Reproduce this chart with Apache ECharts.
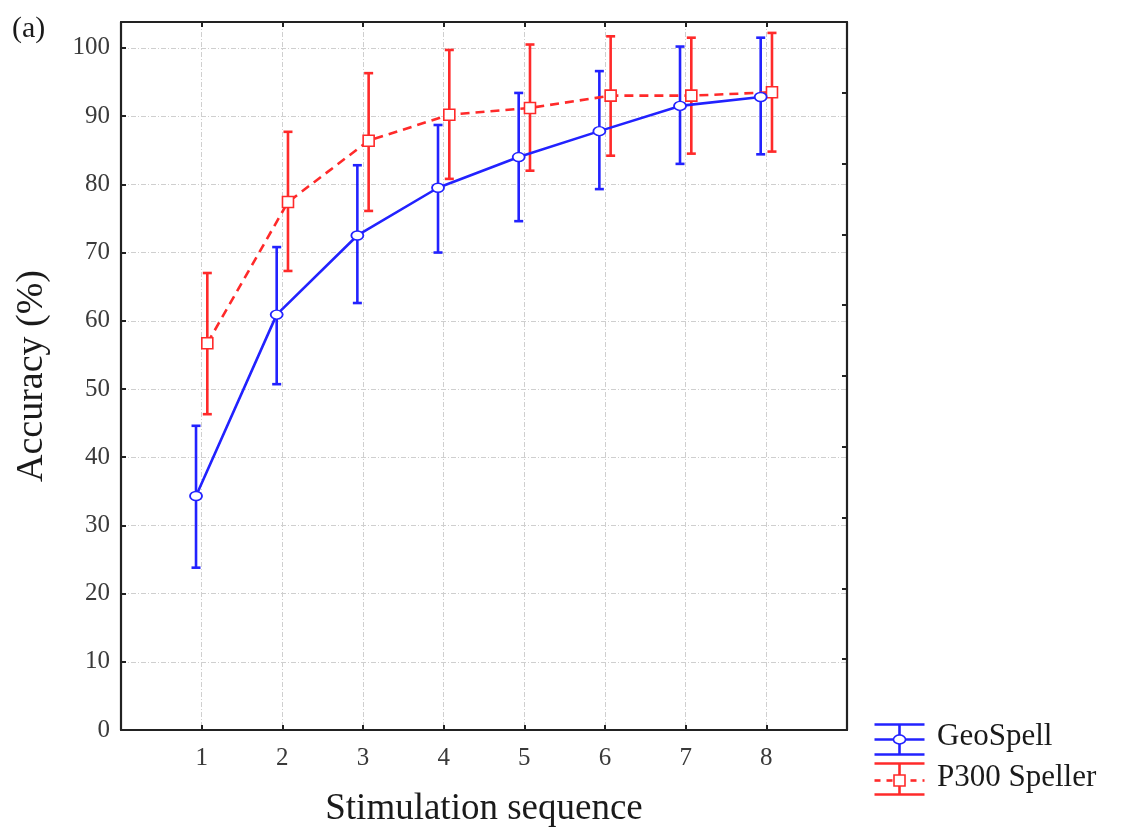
<!DOCTYPE html>
<html>
<head>
<meta charset="utf-8">
<script src="https://cdn.jsdelivr.net/npm/echarts@6/dist/echarts.min.js"></script>
<style>
html,body{margin:0;padding:0;background:#fff;}
#chart{width:1123px;height:834px;}
</style>
</head>
<body>
<div id="chart"></div>
<script>
// ---- data ----
var categories = [1, 2, 3, 4, 5, 6, 7, 8];
var geoMean  = [34.3, 60.9, 72.5, 79.5, 84.0, 87.8, 91.5, 92.8];
var geoLow   = [23.8, 50.7, 62.6, 70.0, 74.6, 79.3, 83.0, 84.4];
var geoHigh  = [44.6, 70.8, 82.8, 88.7, 93.4, 96.6, 100.2, 101.5];
var p3Mean   = [56.7, 77.4, 86.4, 90.2, 91.2, 93.0, 93.0, 93.5];
var p3Low    = [46.3, 67.3, 76.1, 80.8, 82.0, 84.2, 84.5, 84.8];
var p3High   = [67.0, 87.7, 96.3, 99.7, 100.5, 101.7, 101.5, 102.2];
var yTicks   = [0, 10, 20, 30, 40, 50, 60, 70, 80, 90, 100];
var seriesNames = ['GeoSpell', 'P300 Speller'];

// ---- styling ----
var FONT = "'Liberation Serif','Times New Roman',serif";
var BLUE = '#2222ff';
var RED = '#ff2a2a';
var DX = 0.07; // horizontal dodge of the two series
var GRID_COLOR = '#cfcfcf';
var FRAME = '#222';

function pts(means, dx) {
  return categories.map(function (c, i) { return [c + dx, means[i]]; });
}
function errs(lows, highs, dx) {
  return categories.map(function (c, i) { return [c + dx, lows[i], highs[i]]; });
}
function errRender(color) {
  return function (params, api) {
    var x = api.value(0);
    var top = api.coord([x, api.value(2)]);
    var bot = api.coord([x, api.value(1)]);
    var hw = 4.5;
    var st = { stroke: color, lineWidth: 2.6 };
    return {
      type: 'group',
      children: [
        { type: 'line', shape: { x1: top[0], y1: top[1], x2: bot[0], y2: bot[1] }, style: st },
        { type: 'line', shape: { x1: top[0] - hw, y1: top[1], x2: top[0] + hw, y2: top[1] }, style: st },
        { type: 'line', shape: { x1: bot[0] - hw, y1: bot[1], x2: bot[0] + hw, y2: bot[1] }, style: st }
      ]
    };
  };
}

var chart = echarts.init(document.getElementById('chart'));

var gridSplit = { show: true, lineStyle: { color: GRID_COLOR, width: 1, type: [5, 2, 1, 2] } };
var frameLine = { show: true, onZero: false, lineStyle: { color: FRAME, width: 2.2 } };
var innerTick = { show: true, inside: true, length: 5, lineStyle: { color: FRAME, width: 2 } };

var option = {
  backgroundColor: '#fff',
  animation: false,
  grid: { left: 121, right: 276, top: 22, bottom: 104 },
  xAxis: [
    {
      type: 'value', min: 0, max: 9, interval: 1, position: 'bottom',
      name: 'Stimulation sequence', nameLocation: 'middle', nameGap: 61,
      nameTextStyle: { fontFamily: FONT, fontSize: 37, color: '#1a1a1a' },
      axisLine: frameLine,
      axisTick: innerTick,
      axisLabel: {
        margin: 16, fontFamily: FONT, fontSize: 25, color: '#3a3a3a',
        formatter: function (v) { return categories.indexOf(v) >= 0 ? String(v) : ''; }
      },
      splitLine: gridSplit
    },
    {
      type: 'value', min: 0, max: 9, interval: 1, position: 'top',
      axisLine: frameLine,
      axisTick: innerTick,
      axisLabel: { show: false },
      splitLine: { show: false }
    }
  ],
  yAxis: [
    {
      type: 'value', min: 0, max: 103.8, interval: 10, position: 'left',
      name: 'Accuracy (%)', nameLocation: 'middle', nameGap: 70, nameRotate: 90,
      nameTextStyle: { fontFamily: FONT, fontSize: 38, color: '#1a1a1a' },
      axisLine: frameLine,
      axisTick: innerTick,
      axisLabel: {
        margin: 11, fontFamily: FONT, fontSize: 25, color: '#3a3a3a',
        formatter: function (v) { return yTicks.indexOf(v) >= 0 ? String(v) : ''; }
      },
      splitLine: gridSplit
    },
    {
      type: 'value', min: 0, max: 10, interval: 1, position: 'right',
      axisLine: frameLine,
      axisTick: innerTick,
      axisLabel: { show: false },
      splitLine: { show: false }
    }
  ],
  series: [
    {
      name: seriesNames[0] + ' error', type: 'custom', xAxisIndex: 0, yAxisIndex: 0, z: 3,
      renderItem: errRender(BLUE), data: errs(geoLow, geoHigh, -DX), silent: true
    },
    {
      name: seriesNames[1] + ' error', type: 'custom', xAxisIndex: 0, yAxisIndex: 0, z: 3,
      renderItem: errRender(RED), data: errs(p3Low, p3High, DX), silent: true
    },
    {
      name: seriesNames[1], type: 'line', xAxisIndex: 0, yAxisIndex: 0, z: 4,
      data: pts(p3Mean, DX),
      symbol: 'rect', symbolSize: 11,
      itemStyle: { color: '#fff', borderColor: RED, borderWidth: 1.6 },
      lineStyle: { color: RED, width: 2.6, type: [9, 6] }
    },
    {
      name: seriesNames[0], type: 'line', xAxisIndex: 0, yAxisIndex: 0, z: 5,
      data: pts(geoMean, -DX),
      symbol: 'circle', symbolSize: [12, 9],
      itemStyle: { color: '#fff', borderColor: BLUE, borderWidth: 1.6 },
      lineStyle: { color: BLUE, width: 2.6, type: 'solid' }
    }
  ],
  graphic: [
    { type: 'text', left: 12, top: 14, style: { text: '(a)', font: '30px ' + FONT, fill: '#1a1a1a' } },
    // legend: GeoSpell
    { type: 'group', left: 872, top: 722, children: [
      { type: 'line', shape: { x1: 0, y1: 1, x2: 50, y2: 1 }, style: { stroke: BLUE, lineWidth: 2.6 } },
      { type: 'line', shape: { x1: 0, y1: 16, x2: 50, y2: 16 }, style: { stroke: BLUE, lineWidth: 2.6 } },
      { type: 'line', shape: { x1: 0, y1: 31, x2: 50, y2: 31 }, style: { stroke: BLUE, lineWidth: 2.6 } },
      { type: 'line', shape: { x1: 25, y1: 1, x2: 25, y2: 31 }, style: { stroke: BLUE, lineWidth: 2.6 } },
      { type: 'ellipse', shape: { cx: 25, cy: 16, rx: 6, ry: 4.5 }, style: { fill: '#fff', stroke: BLUE, lineWidth: 1.6 } }
    ]},
    { type: 'text', left: 937, top: 721, style: { text: seriesNames[0], font: '31px ' + FONT, fill: '#1a1a1a' } },
    // legend: P300 Speller
    { type: 'group', left: 872, top: 761, children: [
      { type: 'line', shape: { x1: 0, y1: 1, x2: 50, y2: 1 }, style: { stroke: RED, lineWidth: 2.6 } },
      { type: 'line', shape: { x1: 0, y1: 18, x2: 50, y2: 18 }, style: { stroke: RED, lineWidth: 2.6, lineDash: [6, 6] } },
      { type: 'line', shape: { x1: 0, y1: 32, x2: 50, y2: 32 }, style: { stroke: RED, lineWidth: 2.6 } },
      { type: 'line', shape: { x1: 25, y1: 1, x2: 25, y2: 32 }, style: { stroke: RED, lineWidth: 2.6 } },
      { type: 'rect', shape: { x: 19.5, y: 12.5, width: 11, height: 11 }, style: { fill: '#fff', stroke: RED, lineWidth: 1.6 } }
    ]},
    { type: 'text', left: 937, top: 762, style: { text: seriesNames[1], font: '31px ' + FONT, fill: '#1a1a1a' } }
  ]
};
chart.setOption(option);
</script>
</body>
</html>
